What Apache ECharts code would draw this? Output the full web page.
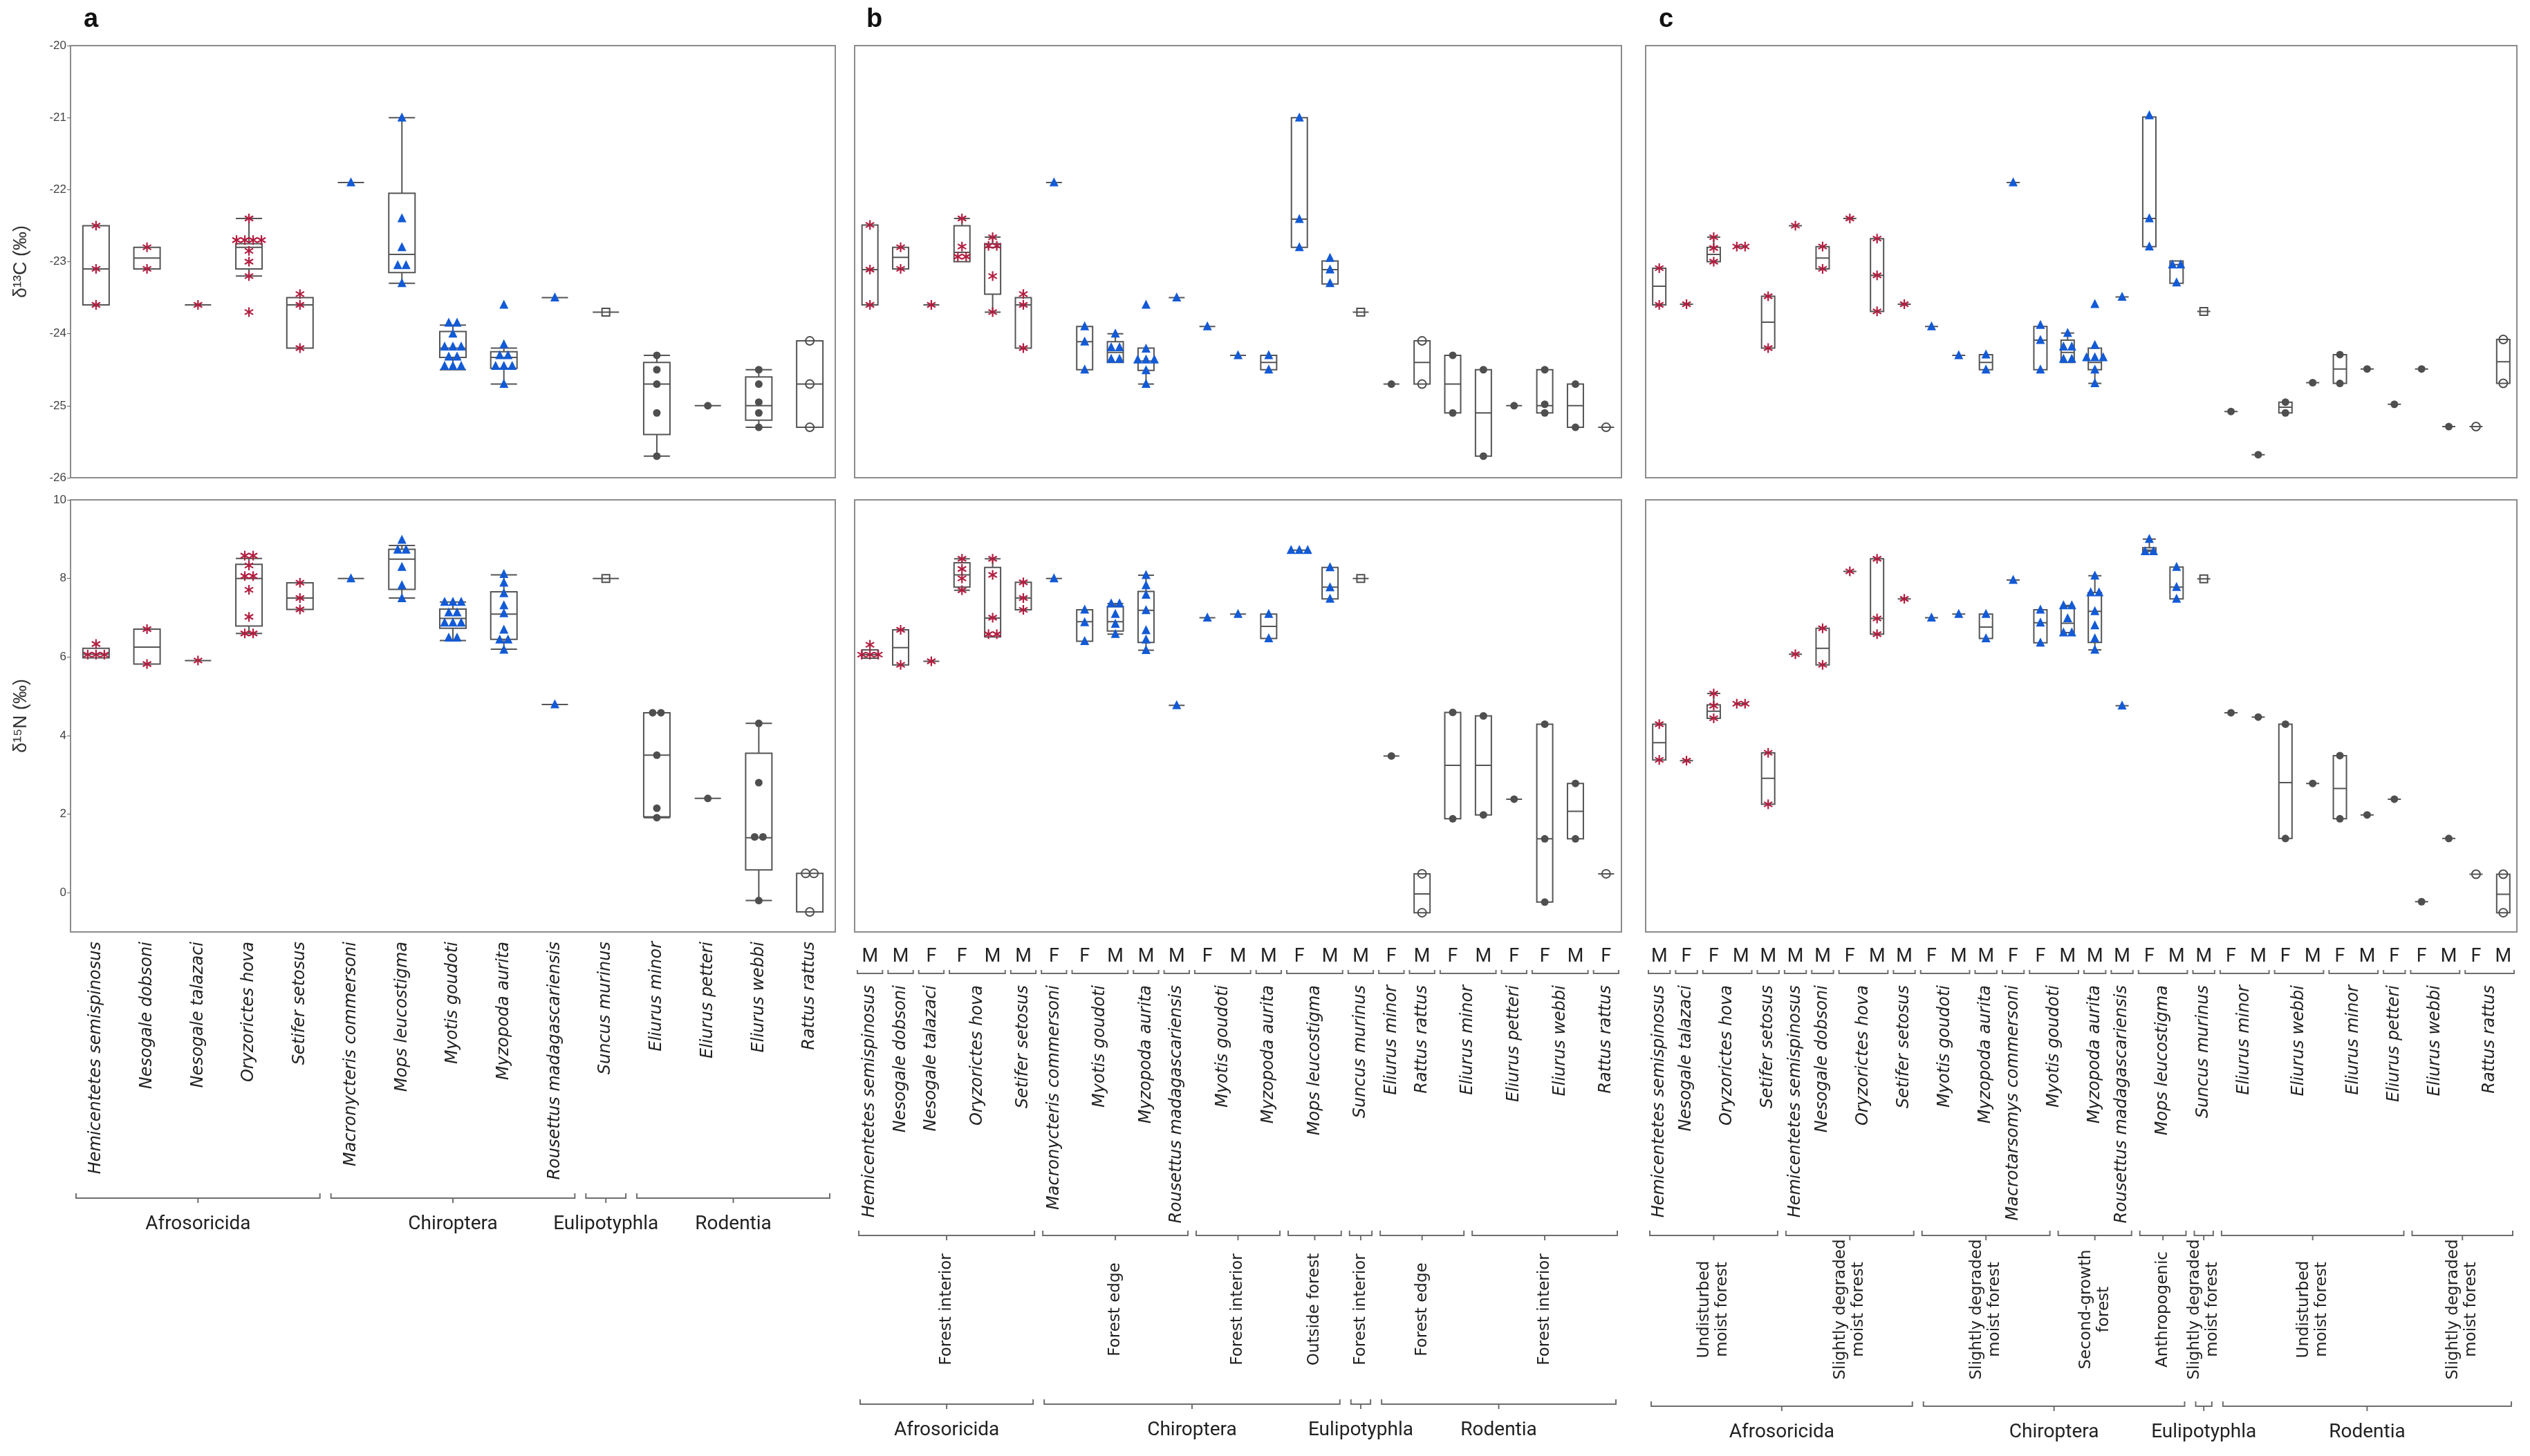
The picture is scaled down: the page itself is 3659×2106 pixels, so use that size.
<!DOCTYPE html>
<html><head><meta charset="utf-8">
<script src="https://cdn.jsdelivr.net/npm/echarts@6/dist/echarts.min.js"></script>
<style>html,body{margin:0;padding:0;background:#fff}#chart{width:3659px;height:2106px}</style>
</head><body><div id="chart"></div>
<script>
// ================= DATA =================
// ---- Panel a (by species) ----
const aSpecies = ['Hemicentetes semispinosus','Nesogale dobsoni','Nesogale talazaci','Oryzorictes hova','Setifer setosus',
  'Macronycteris commersoni','Mops leucostigma','Myotis goudoti','Myzopoda aurita','Rousettus madagascariensis',
  'Suncus murinus','Eliurus minor','Eliurus petteri','Eliurus webbi','Rattus rattus'];
const aOrders = [['Afrosoricida',0,4],['Chiroptera',5,9],['Eulipotyphla',10,10],['Rodentia',11,14]];
const aC13Points = [
  [-22.5,-23.1,-23.6],[-22.8,-23.1],[-23.6],
  [-22.4,-22.7,-22.7,-22.7,-22.7,-22.85,-23.0,-23.2,-23.7],
  [-23.45,-23.6,-24.2],[-21.9],
  [-21.0,-22.4,-22.8,-23.05,-23.05,-23.3],
  [-23.85,-23.85,-24.0,-24.18,-24.18,-24.18,-24.32,-24.32,-24.45,-24.45,-24.45],
  [-23.6,-24.15,-24.3,-24.3,-24.45,-24.45,-24.45,-24.7],
  [-23.5],[-23.7],
  [-24.3,-24.5,-24.7,-25.1,-25.7],[-25.0],
  [-24.5,-24.7,-24.95,-25.1,-25.3],[-24.1,-24.7,-25.3]
];
const aC13Boxes = [
  [-23.6,-23.6,-23.1,-22.5,-22.5],[-23.1,-23.1,-22.95,-22.8,-22.8],null,
  [-23.2,-23.1,-22.8,-22.75,-22.4],[-24.2,-24.2,-23.6,-23.5,-23.5],null,
  [-23.3,-23.15,-22.9,-22.05,-21.0],[-24.5,-24.33,-24.2,-23.97,-23.88],
  [-24.7,-24.48,-24.33,-24.25,-24.2],null,null,
  [-25.7,-25.4,-24.7,-24.4,-24.3],null,
  [-25.3,-25.2,-25.0,-24.6,-24.5],[-25.3,-25.3,-24.7,-24.1,-24.1]
];
const aN15Points = [
  [6.33,6.06,6.06,6.06],[6.71,5.82],[5.91],
  [8.58,8.58,8.33,8.06,8.06,7.71,7.02,6.6,6.6],
  [7.89,7.5,7.21],[8.0],
  [8.98,8.73,8.73,8.29,7.82,7.49],
  [7.4,7.4,7.4,7.13,7.13,6.87,6.87,6.87,6.49,6.49],
  [8.11,7.89,7.62,7.31,7.11,6.69,6.44,6.44,6.18],
  [4.79],[8.0],
  [4.58,4.58,3.5,2.15,1.91],[2.4],
  [4.31,2.8,1.42,1.42,-0.2],[0.49,0.49,-0.49]
];
const aN15Boxes = [
  [5.98,5.98,6.07,6.22,6.22],[5.82,5.82,6.25,6.71,6.71],null,
  [6.6,6.79,8.0,8.36,8.51],[7.21,7.21,7.5,7.89,7.89],null,
  [7.5,7.72,8.49,8.74,8.84],[6.42,6.73,6.98,7.22,7.4],
  [6.2,6.45,7.09,7.66,8.09],null,null,
  [1.91,1.93,3.5,4.58,4.58],null,
  [-0.2,0.58,1.4,3.55,4.31],[-0.49,-0.49,0.49,0.49,0.49]
];

// ---- Panel b (by habitat & sex) ----
const bSex = ['M','M','F','F','M','M','F','F','M','M','M','F','M','M','F','M','M','F','M','F','M','F','F','M','F'];
const bSpecies = [
  ['Hemicentetes semispinosus',0,0],['Nesogale dobsoni',1,1],['Nesogale talazaci',2,2],['Oryzorictes hova',3,4],['Setifer setosus',5,5],
  ['Macronycteris commersoni',6,6],['Myotis goudoti',7,8],['Myzopoda aurita',9,9],['Rousettus madagascariensis',10,10],
  ['Myotis goudoti',11,12],['Myzopoda aurita',13,13],['Mops leucostigma',14,15],
  ['Suncus murinus',16,16],
  ['Eliurus minor',17,17],['Rattus rattus',18,18],['Eliurus minor',19,20],['Eliurus petteri',21,21],['Eliurus webbi',22,23],['Rattus rattus',24,24]
];
const bHabitats = [['Forest interior',0,5],['Forest edge',6,10],['Forest interior',11,13],['Outside forest',14,15],
  ['Forest interior',16,16],['Forest edge',17,19],['Forest interior',20,24]];
const bOrders = [['Afrosoricida',0,5],['Chiroptera',6,15],['Eulipotyphla',16,16],['Rodentia',17,24]];
const bC13Points = [
  [-22.49,-23.11,-23.6],[-22.8,-23.1],[-23.6],
  [-22.4,-22.79,-22.93,-22.93],[-22.66,-22.78,-22.78,-23.2,-23.7],
  [-23.45,-23.6,-24.2],[-21.9],
  [-23.9,-24.11,-24.5],[-24.0,-24.19,-24.19,-24.35,-24.35],
  [-23.6,-24.21,-24.36,-24.36,-24.36,-24.51,-24.7],[-23.5],
  [-23.9],[-24.3],[-24.3,-24.5],
  [-21.0,-22.41,-22.8],[-22.95,-23.11,-23.3],
  [-23.7],
  [-24.7],[-24.1,-24.7],[-24.3,-25.1],[-24.5,-25.7],[-25.0],
  [-24.5,-24.98,-25.1],[-24.7,-25.3],[-25.3]
];
const bC13Boxes = [
  [-23.6,-23.6,-23.11,-22.49,-22.49],[-23.1,-23.1,-22.94,-22.8,-22.8],null,
  [-23.0,-23.0,-22.87,-22.5,-22.4],[-23.7,-23.45,-22.8,-22.75,-22.66],
  [-24.2,-24.2,-23.6,-23.5,-23.5],null,
  [-24.5,-24.5,-24.11,-23.9,-23.9],[-24.4,-24.4,-24.26,-24.11,-24.0],
  [-24.7,-24.51,-24.38,-24.2,-24.2],null,
  null,null,[-24.5,-24.5,-24.4,-24.3,-24.3],
  [-22.8,-22.8,-22.41,-21.0,-21.0],[-23.31,-23.31,-23.11,-22.99,-22.99],
  null,
  null,[-24.7,-24.7,-24.4,-24.1,-24.1],[-25.1,-25.1,-24.7,-24.3,-24.3],[-25.7,-25.7,-25.1,-24.5,-24.5],null,
  [-25.1,-25.1,-25.0,-24.5,-24.5],[-25.3,-25.3,-25.0,-24.7,-24.7],null
];
const bN15Points = [
  [6.31,6.06,6.06,6.06],[6.69,5.8],[5.89],
  [8.5,8.24,8.0,7.7],[8.5,8.09,7.0,6.58,6.58],
  [7.9,7.5,7.2],[8.0],
  [7.2,6.88,6.4],[7.36,7.36,7.09,6.84,6.58],
  [8.08,7.82,7.58,7.19,6.68,6.44,6.17],[4.77],
  [7.0],[7.09],[7.09,6.47],
  [8.72,8.72,8.72],[8.28,7.77,7.48],
  [8.0],
  [3.48],[0.48,-0.51],[4.59,1.88],[4.5,1.98],[2.38],
  [4.29,1.37,-0.24],[2.78,1.37],[0.48]
];
const bN15Boxes = [
  [5.97,5.97,6.06,6.18,6.18],[5.8,5.8,6.24,6.69,6.69],null,
  [7.7,7.78,8.09,8.4,8.5],[6.51,6.51,6.99,8.28,8.5],
  [7.2,7.2,7.5,7.9,7.9],null,
  [6.4,6.4,6.9,7.2,7.2],[6.58,6.66,6.9,7.28,7.36],
  [6.17,6.37,7.19,7.67,8.08],null,
  null,null,[6.47,6.47,6.78,7.09,7.09],
  null,[7.48,7.48,7.78,8.28,8.28],
  null,
  null,[-0.51,-0.51,-0.03,0.48,0.48],[1.88,1.88,3.24,4.59,4.59],[1.98,1.98,3.24,4.5,4.5],null,
  [-0.24,-0.24,1.37,4.29,4.29],[1.37,1.37,2.07,2.78,2.78],null
];

// ---- Panel c (by habitat disturbance & sex) ----
const cSex = ['M','F','F','M','M','M','M','F','M','M','F','M','M','F','F','M','M','M','F','M','M','F','M','F','M','F','M','F','F','M','F','M'];
const cSpecies = [
  ['Hemicentetes semispinosus',0,0],['Nesogale talazaci',1,1],['Oryzorictes hova',2,3],['Setifer setosus',4,4],
  ['Hemicentetes semispinosus',5,5],['Nesogale dobsoni',6,6],['Oryzorictes hova',7,8],['Setifer setosus',9,9],
  ['Myotis goudoti',10,11],['Myzopoda aurita',12,12],['Macrotarsomys commersoni',13,13],['Myotis goudoti',14,15],
  ['Myzopoda aurita',16,16],['Rousettus madagascariensis',17,17],['Mops leucostigma',18,19],
  ['Suncus murinus',20,20],
  ['Eliurus minor',21,22],['Eliurus webbi',23,24],['Eliurus minor',25,26],['Eliurus petteri',27,27],['Eliurus webbi',28,29],['Rattus rattus',30,31]
];
const cHabitats = [['Undisturbed\nmoist forest',0,4],['Slightly degraded\nmoist forest',5,9],['Slightly degraded\nmoist forest',10,14],
  ['Second-growth\nforest',15,17],['Anthropogenic',18,19],['Slightly degraded\nmoist forest',20,20],
  ['Undisturbed\nmoist forest',21,27],['Slightly degraded\nmoist forest',28,31]];
const cOrders = [['Afrosoricida',0,9],['Chiroptera',10,19],['Eulipotyphla',20,20],['Rodentia',21,31]];
const cC13Points = [
  [-23.09,-23.6],[-23.59],[-22.66,-22.81,-23.0],[-22.79,-22.79],[-23.48,-24.2],
  [-22.5],[-22.79,-23.1],[-22.4],[-22.68,-23.19,-23.69],[-23.59],
  [-23.9],[-24.3],[-24.29,-24.5],[-21.9],[-23.88,-24.09,-24.5],
  [-23.99,-24.18,-24.18,-24.35,-24.35],[-23.59,-24.16,-24.33,-24.33,-24.33,-24.5,-24.69],[-23.49],
  [-20.97,-22.4,-22.79],[-23.04,-23.04,-23.29],
  [-23.69],
  [-25.08],[-25.68],[-24.95,-25.1],[-24.68],[-24.29,-24.69],[-24.49],[-24.98],[-24.49],[-25.29],[-25.29],[-24.08,-24.69]
];
const cC13Boxes = [
  [-23.6,-23.6,-23.34,-23.09,-23.09],null,[-23.0,-23.0,-22.9,-22.8,-22.66],null,[-24.2,-24.2,-23.84,-23.48,-23.48],
  null,[-23.1,-23.1,-22.95,-22.79,-22.79],null,[-23.69,-23.69,-23.19,-22.68,-22.68],null,
  null,null,[-24.5,-24.5,-24.4,-24.29,-24.29],null,[-24.5,-24.5,-24.09,-23.9,-23.9],
  [-24.4,-24.4,-24.26,-24.09,-23.99],[-24.69,-24.5,-24.4,-24.2,-24.2],null,
  [-22.79,-22.79,-22.4,-20.99,-20.99],[-23.3,-23.3,-23.04,-22.99,-22.99],
  null,
  null,null,[-25.1,-25.1,-25.02,-24.95,-24.95],null,[-24.69,-24.69,-24.49,-24.29,-24.29],null,null,null,null,null,[-24.69,-24.69,-24.39,-24.08,-24.08]
];
const cN15Points = [
  [4.29,3.38],[3.36],[5.07,4.76,4.44],[4.81,4.81],[3.56,2.25],
  [6.07],[6.73,5.8],[8.18],[8.5,6.98,6.58],[7.48],
  [7.0],[7.09],[7.09,6.47],[7.96],[7.2,6.87,6.36],
  [7.31,7.31,6.98,6.62,6.62],[8.07,7.64,7.64,7.16,6.8,6.47,6.18],[4.76],
  [9.0,8.69,8.69],[8.29,7.78,7.48],
  [7.99],
  [4.58],[4.47],[4.29,1.38],[2.78],[3.49,1.88],[1.98],[2.38],[-0.23],[1.38],[0.47],[0.47,-0.51]
];
const cN15Boxes = [
  [3.38,3.38,3.82,4.29,4.29],null,[4.44,4.44,4.62,4.78,5.07],null,[2.25,2.25,2.91,3.56,3.56],
  null,[5.8,5.8,6.22,6.73,6.73],null,[6.58,6.58,6.98,8.5,8.5],null,
  null,null,[6.47,6.47,6.76,7.09,7.09],null,[6.36,6.36,6.87,7.2,7.2],
  [6.62,6.62,6.86,7.28,7.31],[6.18,6.37,7.16,7.64,8.07],null,
  [8.69,8.69,8.72,8.78,9.0],[7.48,7.48,7.78,8.29,8.29],
  null,
  null,null,[1.38,1.38,2.8,4.29,4.29],null,[1.88,1.88,2.65,3.49,3.49],null,null,null,null,null,[-0.51,-0.51,-0.04,0.47,0.47]
];

// ================= STYLE / LAYOUT =================
const COL = {red:'#b21e40', blue:'#125ad6', gray:'#4f4f4f', box:'#555555', frame:'#8c8c8c', text:'#222222', brk:'#6e6e6e'};
const JIT = 12;
const TOP = {top:66, height:625};
const BOT = {top:723, height:625};

const panels = [
  {key:'a', left:102, width:1106, cats:aSpecies, species:aSpecies.map((s,i)=>[s,i,i]), orders:aOrders, sex:null,
   C:aC13Points, CB:aC13Boxes, N:aN15Points, NB:aN15Boxes, boxW:38, yLabels:true, ordDy:385, letter:{x:121,y:10}},
  {key:'b', left:1236, width:1109, cats:bSex, species:bSpecies, habitats:bHabitats, orders:bOrders, sex:bSex,
   C:bC13Points, CB:bC13Boxes, N:bN15Points, NB:bN15Boxes, boxW:23, yLabels:false, ordDy:683, letter:{x:1253,y:10}},
  {key:'c', left:2380, width:1260, cats:cSex, species:cSpecies, habitats:cHabitats, orders:cOrders, sex:cSex,
   C:cC13Points, CB:cC13Boxes, N:cN15Points, NB:cN15Boxes, boxW:19, yLabels:false, ordDy:686, letter:{x:2399,y:10}}
];

function findGroup(groups, i){ return groups.find(g => i >= g[1] && i <= g[2]); }
function markersFor(p){
  return p.cats.map((_, i) => {
    const ord = findGroup(p.orders, i)[0];
    const sp = findGroup(p.species, i)[0];
    if (ord === 'Afrosoricida') return 0;
    if (ord === 'Chiroptera') return 1;
    if (ord === 'Eulipotyphla') return 2;
    return sp.indexOf('Rattus') === 0 ? 4 : 3;
  });
}
function pointData(points, markers){
  const out = [];
  points.forEach((arr, i) => {
    const counts = {}, seen = {};
    arr.forEach(v => { counts[v] = (counts[v] || 0) + 1; });
    arr.forEach(v => { const n = counts[v], k = seen[v] || 0; seen[v] = k + 1; out.push([i, v, k - (n - 1) / 2, markers[i]]); });
  });
  return out;
}
function boxData(boxes, points){
  return boxes.map((b, i) => b ? b : [0,0,0,0,0].map(() => points[i][0]));
}
function renderPoint(params, api){
  const c = api.coord([api.value(0), api.value(1)]);
  const x = c[0] + api.value(2) * JIT, y = c[1];
  switch (api.value(3)) {
    case 0: {
      const r = 7, ch = [];
      [90, 30, 150].forEach(a => { const t = a * Math.PI / 180, dx = Math.cos(t) * r, dy = Math.sin(t) * r;
        ch.push({type:'line', shape:{x1:x-dx, y1:y-dy, x2:x+dx, y2:y+dy}, style:{stroke:COL.red, lineWidth:2.2}}); });
      return {type:'group', children:ch};
    }
    case 1: return {type:'polygon', shape:{points:[[x, y-7.5],[x-6.5, y+5.5],[x+6.5, y+5.5]]}, style:{fill:COL.blue}};
    case 2: return {type:'rect', shape:{x:x-5.5, y:y-5.5, width:11, height:11}, style:{fill:'none', stroke:COL.gray, lineWidth:2}};
    case 3: return {type:'circle', shape:{cx:x, cy:y, r:5.5}, style:{fill:COL.gray}};
    default: return {type:'circle', shape:{cx:x, cy:y, r:6}, style:{fill:'none', stroke:COL.gray, lineWidth:2}};
  }
}
function buildAnn(p){
  const L = [];
  if (p.sex) {
    p.species.forEach(([name, s, e]) => {
      L.push({kind:'bracket', s, e, dy:60, h:5, inset:4, tick:false});
      L.push({kind:'text', s, e, dy:77, text:name, rot:true, align:'right', size:24, italic:true, family:'DejaVu Sans'});
    });
    p.habitats.forEach(([name, s, e]) => {
      L.push({kind:'bracket', s, e, dy:439, h:7, inset:6, tick:true});
      L.push({kind:'text', s, e, dy:546, text:name, rot:true, align:'center', size:23, italic:false, family:'DejaVu Sans', lh:26});
    });
  }
  p.orders.forEach(([name, s, e]) => {
    L.push({kind:'bracket', s, e, dy:p.ordDy, h:7, inset:8, tick:true});
    L.push({kind:'text', s, e, dy:p.ordDy + 38, text:name, rot:false, align:'center', size:28, italic:false, family:'Roboto'});
  });
  return L;
}
function annRender(L){
  return function(params, api){
    const o = L[params.dataIndex];
    const band = api.size([1, 0])[0];
    const p0 = api.coord([o.s, -1]), p1 = api.coord([o.e, -1]);
    const x1 = p0[0] - band / 2, x2 = p1[0] + band / 2, xc = (x1 + x2) / 2;
    const y0 = p0[1] + o.dy;
    if (o.kind === 'bracket') {
      const ch = [{type:'polyline', shape:{points:[[x1+o.inset, y0-o.h],[x1+o.inset, y0],[x2-o.inset, y0],[x2-o.inset, y0-o.h]]},
                   style:{stroke:COL.brk, lineWidth:2, fill:null}}];
      if (o.tick) ch.push({type:'line', shape:{x1:xc, y1:y0, x2:xc, y2:y0+o.h}, style:{stroke:COL.brk, lineWidth:2}});
      return {type:'group', children:ch};
    }
    return {type:'text', x:xc, y:y0, rotation:o.rot ? Math.PI/2 : 0,
      style:{text:o.text, fill:COL.text, fontSize:o.size, fontFamily:o.family, fontStyle:o.italic ? 'italic' : 'normal',
             align:o.align, verticalAlign:'middle', lineHeight:o.lh || o.size * 1.2}};
  };
}

const grids = [], xAxes = [], yAxes = [], series = [], graphics = [];
panels.forEach((p, pi) => {
  const markers = markersFor(p);
  [['C', TOP], ['N', BOT]].forEach(([iso, pos], k) => {
    const gi = pi * 2 + k;
    const isBottom = k === 1;
    grids.push({left:p.left, width:p.width, top:pos.top, height:pos.height, show:true,
      borderColor:COL.frame, borderWidth:2, backgroundColor:'transparent', containLabel:false});
    const xa = {type:'category', gridIndex:gi, data:p.cats, boundaryGap:true,
      axisLine:{show:false}, axisTick:{show:false}, splitLine:{show:false}};
    if (!isBottom) xa.axisLabel = {show:false};
    else if (!p.sex) xa.axisLabel = {show:true, interval:0, rotate:90, margin:14, fontSize:24, fontStyle:'italic',
      fontFamily:'DejaVu Sans', color:COL.text};
    else xa.axisLabel = {show:true, interval:0, margin:36, verticalAlign:'middle', fontSize:27, fontFamily:'Roboto', color:COL.text};
    xAxes.push(xa);
    const ya = {type:'value', gridIndex:gi, splitLine:{show:false}, axisLine:{show:false}};
    if (!isBottom) { ya.min = -26; ya.max = -20; ya.interval = 1; }
    else { ya.min = -1; ya.max = 10;
      ya.axisLabel = {customValues:[0,2,4,6,8,10]}; ya.axisTick = {customValues:[0,2,4,6,8,10]}; }
    if (p.yLabels) {
      ya.axisLabel = Object.assign(ya.axisLabel || {}, {show:true, fontSize:17, color:'#444', margin:6, fontFamily:'Liberation Sans'});
      ya.axisTick = Object.assign(ya.axisTick || {}, {show:true, length:5, lineStyle:{color:'#666'}});
      ya.name = isBottom ? 'δ¹⁵N (‰)' : 'δ¹³C (‰)';
      ya.nameLocation = 'middle'; ya.nameRotate = 90; ya.nameGap = 58;
      ya.nameTextStyle = {fontSize:27, color:'#333', fontFamily:'Liberation Sans'};
    } else {
      ya.axisLabel = Object.assign(ya.axisLabel || {}, {show:false});
      ya.axisTick = Object.assign(ya.axisTick || {}, {show:false});
    }
    yAxes.push(ya);
    const pts = iso === 'C' ? p.C : p.N, bxs = iso === 'C' ? p.CB : p.NB;
    series.push({type:'boxplot', xAxisIndex:gi, yAxisIndex:gi, silent:true, data:boxData(bxs, pts),
      boxWidth:[p.boxW, p.boxW], itemStyle:{color:'rgba(0,0,0,0)', borderColor:COL.box, borderWidth:2}, z:2});
    series.push({type:'custom', xAxisIndex:gi, yAxisIndex:gi, silent:true, data:pointData(pts, markers),
      encode:{x:0, y:1}, renderItem:renderPoint, z:5, clip:false});
    if (isBottom) {
      const L = buildAnn(p);
      series.push({type:'custom', xAxisIndex:gi, yAxisIndex:gi, silent:true, data:L.map(o => [o.s, -1]),
        encode:{x:0, y:1}, renderItem:annRender(L), z:3, clip:false});
    }
  });
  graphics.push({type:'text', left:p.letter.x, top:p.letter.y,
    style:{text:p.key, fontSize:38, fontWeight:'bold', fontFamily:'Liberation Sans', fill:'#111'}});
});

const chart = echarts.init(document.getElementById('chart'), null, {renderer:'canvas'});
chart.setOption({
  animation:false, backgroundColor:'#ffffff',
  textStyle:{fontFamily:'Liberation Sans'},
  grid:grids, xAxis:xAxes, yAxis:yAxes, series:series, graphic:graphics
});
</script></body></html>
